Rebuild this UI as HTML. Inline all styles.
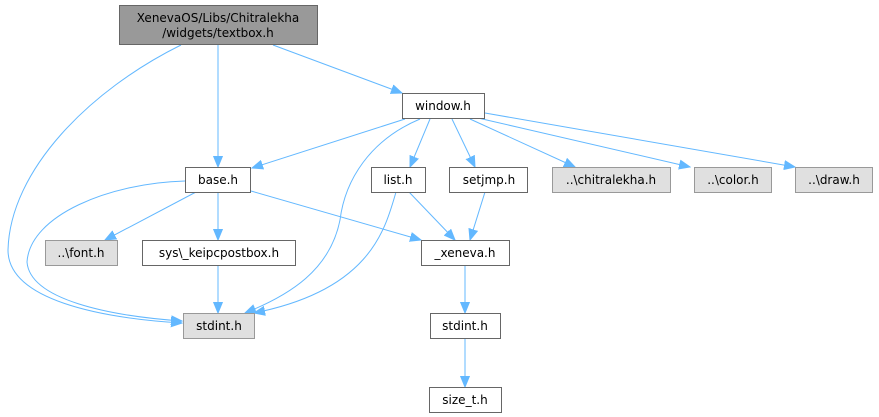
<!DOCTYPE html>
<html><head><meta charset="utf-8"><style>
html,body{margin:0;padding:0;background:#fff;width:879px;height:417px;overflow:hidden}
text{font-family:"DejaVu Sans","Liberation Sans",sans-serif;font-size:12px;fill:#000;text-anchor:middle}
.n{fill:#fff;stroke:#666;stroke-width:1}
.g{fill:#e0e0e0;stroke:#999;stroke-width:1}
.e{fill:none;stroke:#63b8ff;stroke-width:1}
</style></head><body>
<svg width="879" height="417" xmlns="http://www.w3.org/2000/svg">
<defs><marker id="a" markerUnits="userSpaceOnUse" markerWidth="12" markerHeight="10" refX="11" refY="5" orient="auto"><path d="M0,0.5 L11,5 L0,9.5 z" fill="#63b8ff" stroke="#63b8ff"/></marker></defs>
<g class="e" marker-end="url(#a)">
<path d="M218,45 L218,167"/>
<path d="M273,45 L402,93"/>
<path d="M181,45 C90,90 10,170 8,250 C8,300 100,318 182,323"/>
<path d="M185,181 C110,183 30,215 27,262 C30,300 110,316 182,321"/>
<path d="M405,119 L252,168"/>
<path d="M420,119 C370,140 345,180 340,220 C330,270 290,295 245,313"/>
<path d="M430,119 L410,167"/>
<path d="M452,119 L475,167"/>
<path d="M470,119 L575,167"/>
<path d="M478,118 L690,167"/>
<path d="M485,113 L795,167"/>
<path d="M196,192 L105,240"/>
<path d="M218,192 L218,240"/>
<path d="M251,191 L421,240"/>
<path d="M409,192 L455,240"/>
<path d="M396,192 C385,230 370,290 254,313"/>
<path d="M485,192 L470,240"/>
<path d="M218,265 L218,313"/>
<path d="M465,265 L465,313"/>
<path d="M465,338 L465,387"/>
</g>
<rect x="119.5" y="5.5" width="198" height="39" fill="#999" stroke="#666"/>
<text x="218" y="22">XenevaOS/Libs/Chitralekha</text>
<text x="218" y="37">/widgets/textbox.h</text>
<rect class="n" x="402.5" y="93.5" width="82" height="25"/><text x="443" y="110">window.h</text>
<rect class="n" x="185.5" y="167.5" width="65" height="25"/><text x="218" y="184">base.h</text>
<rect class="n" x="371.5" y="167.5" width="54" height="25"/><text x="398" y="184">list.h</text>
<rect class="n" x="449.5" y="167.5" width="78" height="25"/><text x="489" y="184">setjmp.h</text>
<rect class="g" x="552.5" y="167.5" width="118" height="25"/><text x="611" y="184">..\chitralekha.h</text>
<rect class="g" x="694.5" y="167.5" width="77" height="25"/><text x="733" y="184">..\color.h</text>
<rect class="g" x="795.5" y="167.5" width="77" height="25"/><text x="834" y="184">..\draw.h</text>
<rect class="g" x="45.5" y="240.5" width="72" height="25"/><text x="81" y="257">..\font.h</text>
<rect class="n" x="142.5" y="240.5" width="153" height="25"/><text x="219" y="257">sys\_keipcpostbox.h</text>
<rect class="n" x="421.5" y="240.5" width="88" height="25"/><text x="465" y="257">_xeneva.h</text>
<rect class="g" x="183.5" y="313.5" width="71" height="25"/><text x="219" y="330">stdint.h</text>
<rect class="n" x="430.5" y="313.5" width="70" height="25"/><text x="465" y="330">stdint.h</text>
<rect class="n" x="429.5" y="387.5" width="72" height="25"/><text x="465" y="404">size_t.h</text>
</svg>
</body></html>
